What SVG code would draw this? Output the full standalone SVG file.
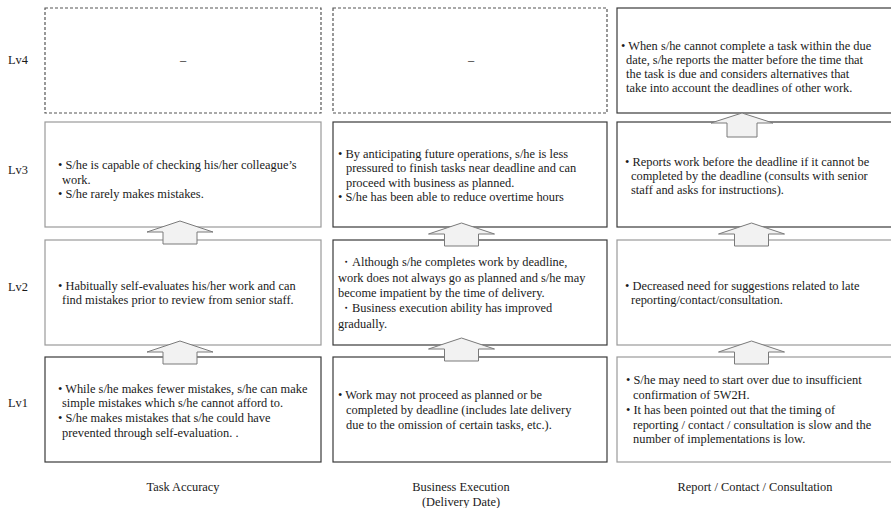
<svg xmlns="http://www.w3.org/2000/svg" width="891" height="508" viewBox="0 0 891 508">
<style>
.bg{fill:#ffffff}
.box{fill:#ffffff;stroke-width:1.2}
.dark{stroke:#3a3a3a}
.light{stroke:#9a9a9a}
.dash{stroke:#555555;stroke-dasharray:3 2}
.t{font-family:"Liberation Serif","Times New Roman",serif;font-size:12.4px;fill:#1a1a1a}
.lbl{font-family:"Liberation Serif","Times New Roman",serif;font-size:12.4px;fill:#1a1a1a;text-anchor:middle}
.arrow{fill:#f2f2f2;stroke:#7a7a7a;stroke-width:1}
</style>
<rect class="bg" x="0" y="0" width="891" height="508"/>

<g id="levels">
<text class="t" x="8" y="64">Lv4</text>
<text class="t" x="8" y="174">Lv3</text>
<text class="t" x="8" y="291">Lv2</text>
<text class="t" x="8" y="407">Lv1</text>
</g>

<g id="ta-lv4">
<rect class="box dash" x="45" y="8" width="276" height="105"/>
<text class="lbl" x="183" y="64">–</text>
</g>
<g id="be-lv4">
<rect class="box dash" x="333" y="8" width="274" height="105"/>
<text class="lbl" x="471" y="64">–</text>
</g>
<g id="rc-lv4">
<rect class="box dark" x="617" y="8" width="280" height="105"/>
<text class="t"><tspan x="621" y="50">• When s/he cannot complete a task within the due</tspan><tspan x="626" y="64">date, s/he reports the matter before the time that</tspan><tspan x="626" y="78">the task is due and considers alternatives that</tspan><tspan x="626" y="92">take into account the deadlines of other work.</tspan></text>
</g>

<g id="ta-lv3">
<rect class="box light" x="45" y="122" width="276" height="105"/>
<text class="t"><tspan x="58" y="169">• S/he is capable of checking his/her colleague’s</tspan><tspan x="62" y="184">work.</tspan><tspan x="58" y="198">• S/he rarely makes mistakes.</tspan></text>
</g>
<g id="be-lv3">
<rect class="box dark" x="333" y="122" width="274" height="105"/>
<text class="t"><tspan x="338" y="158">• By anticipating future operations, s/he is less</tspan><tspan x="346" y="172">pressured to finish tasks near deadline and can</tspan><tspan x="346" y="187">proceed with business as planned.</tspan><tspan x="338" y="201">• S/he has been able to reduce overtime hours</tspan></text>
</g>
<g id="rc-lv3">
<rect class="box dark" x="617" y="122" width="280" height="105"/>
<text class="t"><tspan x="625" y="166">• Reports work before the deadline if it cannot be</tspan><tspan x="631" y="180">completed by the deadline (consults with senior</tspan><tspan x="631" y="194">staff and asks for instructions).</tspan></text>
</g>

<g id="ta-lv2">
<rect class="box light" x="45" y="240" width="276" height="105"/>
<text class="t"><tspan x="58" y="290">• Habitually self-evaluates his/her work and can</tspan><tspan x="62" y="304">find mistakes prior to review from senior staff.</tspan></text>
</g>
<g id="be-lv2">
<rect class="box dark" x="333" y="240" width="274" height="105"/>
<text class="t"><tspan x="340" y="266">・Although s/he completes work by deadline,</tspan><tspan x="338" y="281.5">work does not always go as planned and s/he may</tspan><tspan x="338" y="297">become impatient by the time of delivery.</tspan><tspan x="340" y="312">・Business execution ability has improved</tspan><tspan x="338" y="328">gradually.</tspan></text>
</g>
<g id="rc-lv2">
<rect class="box light" x="617" y="240" width="280" height="105"/>
<text class="t"><tspan x="625" y="290">• Decreased need for suggestions related to late</tspan><tspan x="631" y="304">reporting/contact/consultation.</tspan></text>
</g>

<g id="ta-lv1">
<rect class="box dark" x="45" y="357" width="276" height="105"/>
<text class="t"><tspan x="58" y="393">• While s/he makes fewer mistakes, s/he can make</tspan><tspan x="62" y="407">simple mistakes which s/he cannot afford to.</tspan><tspan x="58" y="422">• S/he makes mistakes that s/he could have</tspan><tspan x="62" y="437">prevented through self-evaluation. .</tspan></text>
</g>
<g id="be-lv1">
<rect class="box dark" x="333" y="357" width="274" height="105"/>
<text class="t"><tspan x="338" y="399">• Work may not proceed as planned or be</tspan><tspan x="346" y="414">completed by deadline (includes late delivery</tspan><tspan x="346" y="429">due to the omission of certain tasks, etc.).</tspan></text>
</g>
<g id="rc-lv1">
<rect class="box light" x="617" y="357" width="280" height="105"/>
<text class="t"><tspan x="626" y="384">• S/he may need to start over due to insufficient</tspan><tspan x="633" y="399">confirmation of 5W2H.</tspan><tspan x="626" y="414">• It has been pointed out that the timing of</tspan><tspan x="633" y="429">reporting / contact / consultation is slow and the</tspan><tspan x="633" y="443">number of implementations is low.</tspan></text>
</g>

<g id="connectors">
<path class="arrow" d="M180,221 L213,232 L197,232 L197,244 L163,244 L163,232 L147,232 Z"/>
<path class="arrow" d="M180,341 L213,352 L197,352 L197,364 L163,364 L163,352 L147,352 Z"/>
<path class="arrow" d="M461.5,223 L494.5,234 L478.5,234 L478.5,246 L444.5,246 L444.5,234 L428.5,234 Z"/>
<path class="arrow" d="M461.5,338 L494.5,349 L478.5,349 L478.5,361 L444.5,361 L444.5,349 L428.5,349 Z"/>
<path class="arrow" d="M742,113 L773,123 L757,123 L757,137 L727,137 L727,123 L711,123 Z"/>
<path class="arrow" d="M751.5,223 L784.5,234 L768.5,234 L768.5,246 L734.5,246 L734.5,234 L718.5,234 Z"/>
<path class="arrow" d="M751.5,341 L784.5,352 L768.5,352 L768.5,364 L734.5,364 L734.5,352 L718.5,352 Z"/>
</g>

<g id="columns">
<text class="lbl" x="183" y="491">Task Accuracy</text>
<text class="lbl" x="461" y="491">Business Execution</text>
<text class="lbl" x="461" y="506">(Delivery Date)</text>
<text class="lbl" x="755" y="491">Report / Contact / Consultation</text>
</g>
</svg>
